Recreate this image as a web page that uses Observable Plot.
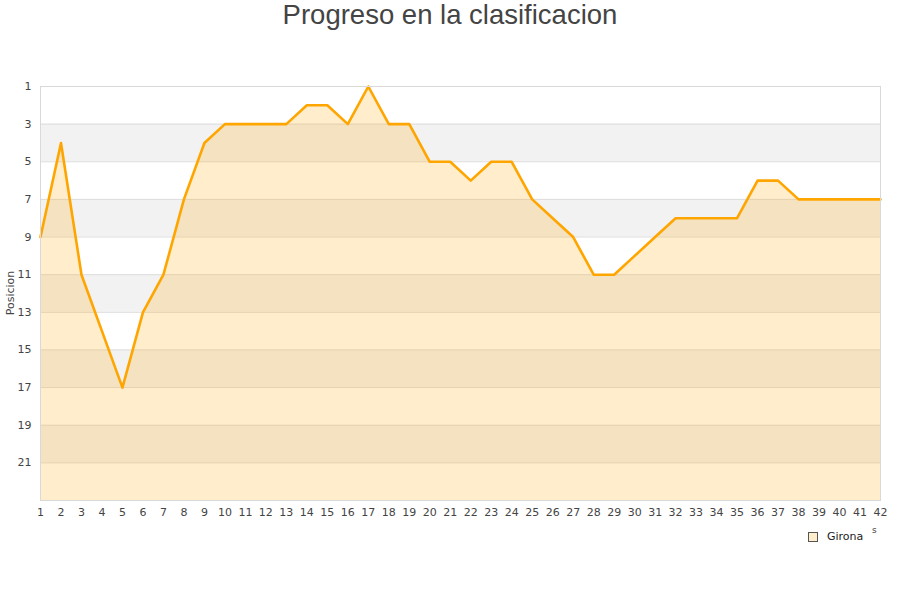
<!DOCTYPE html>
<html>
<head>
<meta charset="utf-8">
<script src="https://cdn.jsdelivr.net/npm/d3@7"></script>
<script src="https://cdn.jsdelivr.net/npm/@observablehq/plot@0.6"></script>
<style>
  body { margin: 0; background: #fff; width: 900px; height: 600px; position: relative; overflow: hidden; }
  #title { position: absolute; top: -1px; left: 0; width: 900px; text-align: center; font-family: "Liberation Sans", Arial, sans-serif; font-size: 27.5px; color: #444; line-height: 32px; }
  #chart { position: absolute; top: 40px; left: 0; }
  #ylabel { position: absolute; left: 10px; top: 293px; transform: translate(-50%, -50%) rotate(-90deg); font-family: "DejaVu Sans", sans-serif; font-size: 11px; color: #444; white-space: nowrap; }
  #legend { position: absolute; left: 808px; top: 530px; font-family: "DejaVu Sans", sans-serif; font-size: 11px; color: #222; display: flex; align-items: center; }
  #legend span.sw { display: inline-block; width: 8px; height: 8px; border: 1px solid #555; background: #ffedcc; margin-right: 9px; }
  #extra { position: absolute; left: 872px; top: 525px; font-family: "DejaVu Sans", sans-serif; font-size: 9px; color: #444; }
</style>
</head>
<body>
<div id="title">Progreso en la clasificacion</div>
<div id="chart"></div>
<div id="ylabel">Posicion</div>
<div id="legend"><span class="sw"></span>Girona</div>
<div id="extra">s</div>
<script>
const jornadas = d3.range(1, 43);
const posiciones = [9, 4, 11, 14, 17, 13, 11, 7, 4, 3, 3, 3, 3, 2, 2, 3, 1, 3, 3, 5, 5, 6, 5, 5, 7, 8, 9, 11, 11, 10, 9, 8, 8, 8, 8, 6, 6, 7, 7, 7, 7, 7];
const equipo = "Girona";
const yTicks = [1, 3, 5, 7, 9, 11, 13, 15, 17, 19, 21];
const bandasGris = [[3, 5], [7, 9], [11, 13], [15, 17], [19, 21]];
const maxPos = 23;

const data = jornadas.map((j, i) => ({jornada: j, pos: posiciones[i]}));
const bands = bandasGris.map(([a, b]) => ({y1: a, y2: b}));

const chart = Plot.plot({
  width: 900,
  height: 520,
  marginTop: 46,
  marginBottom: 60,
  marginLeft: 40,
  marginRight: 20,
  style: {fontFamily: "'DejaVu Sans', sans-serif", fontSize: "11px", color: "#444", background: "transparent"},
  x: {domain: [1, 42], ticks: jornadas, tickSize: 0, tickPadding: 8, tickFormat: d => String(d), label: null},
  y: {domain: [1, maxPos], reverse: true, ticks: yTicks, tickSize: 0, tickPadding: 9, label: null},
  marks: [
    Plot.rect(bands, {x1: 1, x2: 42, y1: "y1", y2: "y2", fill: "#f2f2f2"}),
    Plot.ruleY(yTicks, {stroke: "#dddddd", strokeWidth: 1}),
    Plot.areaY(data, {x: "jornada", y1: maxPos, y2: "pos", fill: "#FFA500", fillOpacity: 0.2}),
    Plot.lineY(data, {x: "jornada", y: "pos", stroke: "#FFA500", strokeWidth: 2.6}),
    Plot.frame({stroke: "#d9d9d9"})
  ]
});
document.getElementById("chart").appendChild(chart);
</script>
</body>
</html>
